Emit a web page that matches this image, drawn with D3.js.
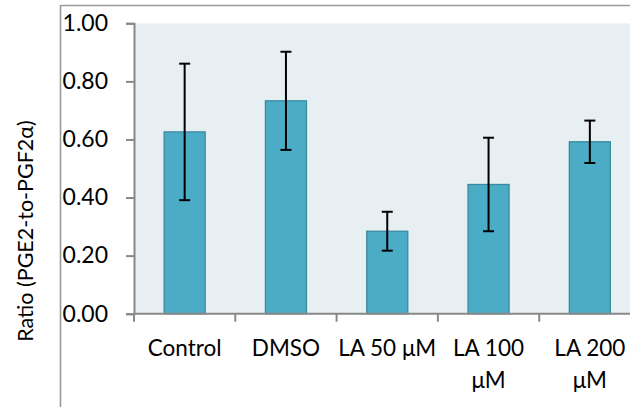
<!DOCTYPE html>
<html>
<head>
<meta charset="utf-8">
<script src="https://cdn.jsdelivr.net/npm/d3@7"></script>
<style>
html,body{margin:0;padding:0;background:#fff;}
svg{display:block;}
text{font-family:Lato,"Open Sans",sans-serif;fill:#000;}
</style>
</head>
<body>
<svg id="chart" width="630" height="407"></svg>
<script>
const categories = ["Control", "DMSO", "LA 50 μM", "LA 100 μM", "LA 200 μM"];
const tickLines = [["Control"], ["DMSO"], ["LA 50 μM"], ["LA 100", "μM"], ["LA 200", "μM"]];
const values = [0.626, 0.733, 0.284, 0.445, 0.592];
const errors = [0.235, 0.169, 0.067, 0.161, 0.073];
const yTicks = [0, 0.2, 0.4, 0.6, 0.8, 1.0];
const yLabel = "Ratio (PGE2-to-PGF2α)";

(function () {
const svg = d3.select("#chart");
const W = 630, H = 407;
const plotLeft = 134, plotTop = 23.3, plotBottom = 313.7, rightExtent = 640.5;

// outer frame (cropped chart area border)
svg.append("path")
  .attr("d", `M60.5,${H} L60.5,5.5 L${W},5.5`)
  .attr("fill", "none").attr("stroke", "#9a9a9a").attr("stroke-width", 1.6);

const x = d3.scaleBand().domain(categories).range([plotLeft, rightExtent])
  .paddingInner(0.595).paddingOuter(0.2975);
const y = d3.scaleLinear().domain([0, 1]).range([plotBottom, plotTop]);

// plot background
svg.append("rect").attr("x", plotLeft).attr("y", plotTop)
  .attr("width", W - plotLeft).attr("height", plotBottom - plotTop)
  .attr("fill", "#e8eff3");

// bars
const data = categories.map((c, i) => ({c, v: values[i], e: errors[i]}));
svg.append("g").selectAll("rect").data(data).join("rect")
  .attr("x", d => x(d.c)).attr("width", x.bandwidth())
  .attr("y", d => y(d.v)).attr("height", d => y(0) - y(d.v))
  .attr("fill", "#4bacc6").attr("stroke", "#3a8aa0").attr("stroke-width", 1.3);

// error bars
const eg = svg.append("g").attr("stroke", "#000").attr("stroke-width", 2);
data.forEach(d => {
  const cx = x(d.c) + x.bandwidth() / 2;
  eg.append("line").attr("x1", cx).attr("x2", cx).attr("y1", y(d.v + d.e)).attr("y2", y(d.v - d.e));
  [d.v + d.e, d.v - d.e].forEach(v => {
    eg.append("line").attr("x1", cx - 5.5).attr("x2", cx + 5.5).attr("y1", y(v)).attr("y2", y(v));
  });
});

// y axis
const yAxis = d3.axisLeft(y).tickValues(yTicks).tickFormat(d3.format(".2f")).tickSize(8).tickPadding(18);
const yg = svg.append("g").attr("transform", `translate(${plotLeft},0)`).call(yAxis);
yg.select(".domain").attr("stroke", "#888").attr("stroke-width", 2);
yg.selectAll(".tick line").attr("stroke", "#888").attr("stroke-width", 2);
yg.selectAll(".tick text").attr("font-size", 23).attr("font-family", "Lato").attr("fill", "#000");

// x axis
const xg = svg.append("g");
xg.append("line").attr("x1", plotLeft).attr("x2", W).attr("y1", plotBottom).attr("y2", plotBottom)
  .attr("stroke", "#888").attr("stroke-width", 2);
d3.range(categories.length + 1).forEach(i => {
  const bx = x.range()[0] + i * x.step();
  xg.append("line").attr("x1", bx).attr("x2", bx).attr("y1", plotBottom).attr("y2", plotBottom + 8)
    .attr("stroke", "#888").attr("stroke-width", 2);
});
categories.forEach((c, i) => {
  const cx = x(c) + x.bandwidth() / 2;
  const t = xg.append("text").attr("text-anchor", "middle").attr("font-size", 22.5)
    .attr("x", cx).attr("y", 356);
  tickLines[i].forEach((ln, j) => {
    t.append("tspan").attr("x", cx).attr("y", 356 + j * 31.5).text(ln);
  });
});

// y label
svg.append("text").attr("transform", "translate(33,231) rotate(-90)")
  .attr("text-anchor", "middle").attr("font-size", 21.5).text(yLabel);
})();
</script>
</body>
</html>
